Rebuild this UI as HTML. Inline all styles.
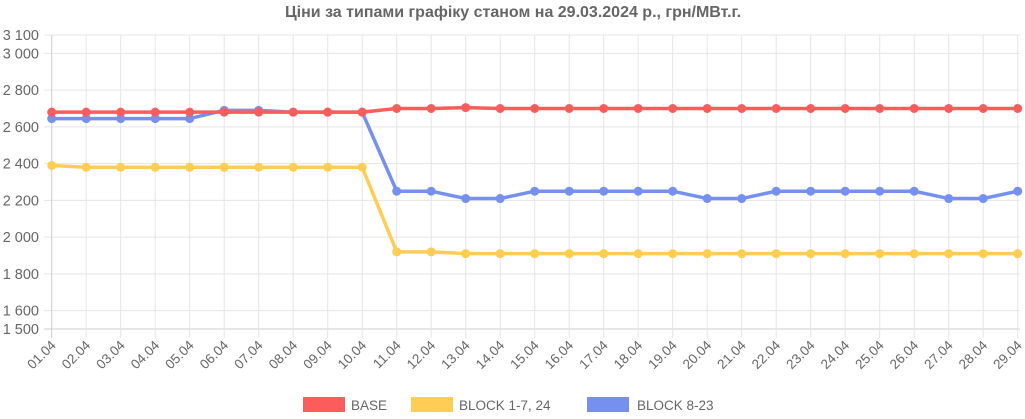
<!DOCTYPE html>
<html><head><meta charset="utf-8"><style>
html,body{margin:0;padding:0;background:#fff;}
svg{display:block;font-family:"Liberation Sans",Arial,sans-serif;}
</style></head><body>
<svg width="1025" height="419" viewBox="0 0 1025 419" xmlns="http://www.w3.org/2000/svg">
<text x="513" y="17" text-anchor="middle" font-size="16" font-weight="bold" fill="#666">Ціни за типами графіку станом на 29.03.2024 р., грн/МВт.г.</text>
<g id="grid" stroke="#e5e5e5" stroke-width="1"></g>
<g id="ylab" font-size="14.5" fill="#666" text-anchor="end"></g>
<g id="xlab" font-size="13.5" fill="#666" text-anchor="end"></g>
<g id="series"></g>
<g font-size="13.5" fill="#666">
<rect x="303" y="397" width="42" height="15" fill="#fd5c5c"/>
<text x="351" y="410">BASE</text>
<rect x="411" y="397" width="42" height="15" fill="#ffcd56"/>
<text x="459" y="410">BLOCK 1-7, 24</text>
<rect x="587" y="397" width="42" height="15" fill="#7590ef"/>
<text x="637" y="410">BLOCK 8-23</text>
</g>
</svg>
<script>
const NS="http://www.w3.org/2000/svg";
const y0=329,k=0.18375,x0=51.7,dx=34.5;
const Y=v=>y0-(v-1500)*k, X=i=>x0+i*dx;
function el(p,t,a,txt){const e=document.createElementNS(NS,t);for(const n in a)e.setAttribute(n,a[n]);if(txt)e.textContent=txt;document.getElementById(p).appendChild(e);return e;}
[1500,1600,1800,2000,2200,2400,2600,2800,3000,3100].forEach(v=>{
 el("grid","line",{x1:44,x2:1020,y1:Y(v),y2:Y(v),stroke:v==1500?"#ccc":"#e5e5e5"});
 el("ylab","text",{x:39,y:Y(v)+5},v.toString().replace(/\B(?=(\d{3})+$)/,"\u00a0"));
});
for(let i=0;i<29;i++){
 el("grid","line",{x1:X(i),x2:X(i),y1:Y(3100),y2:338,stroke:i==0?"#ccc":"#e5e5e5"});
 const d=String(i+1).padStart(2,"0")+".04";
 el("xlab","text",{x:X(i)+5,y:346,transform:`rotate(-45 ${X(i)+5} 346)`},d);
}
const base=[2680,2680,2680,2680,2680,2680,2680,2680,2680,2680,2700,2700,2705,2700,2700,2700,2700,2700,2700,2700,2700,2700,2700,2700,2700,2700,2700,2700,2700];
const b1=[2390,2380,2380,2380,2380,2380,2380,2380,2380,2380,1920,1920,1910,1910,1910,1910,1910,1910,1910,1910,1910,1910,1910,1910,1910,1910,1910,1910,1910];
const b8=[2645,2645,2645,2645,2645,2690,2690,2680,2680,2680,2250,2250,2210,2210,2250,2250,2250,2250,2250,2210,2210,2250,2250,2250,2250,2250,2210,2210,2250];
function series(d,c){
 el("series","polyline",{points:d.map((v,i)=>X(i)+","+Y(v)).join(" "),fill:"none",stroke:c,"stroke-width":3.5,"stroke-linejoin":"round"});
 d.forEach((v,i)=>el("series","circle",{cx:X(i),cy:Y(v),r:4.5,fill:c}));
}
series(b1,"#ffcd56");series(b8,"#7590ef");series(base,"#fd5c5c");
</script>
</body></html>
